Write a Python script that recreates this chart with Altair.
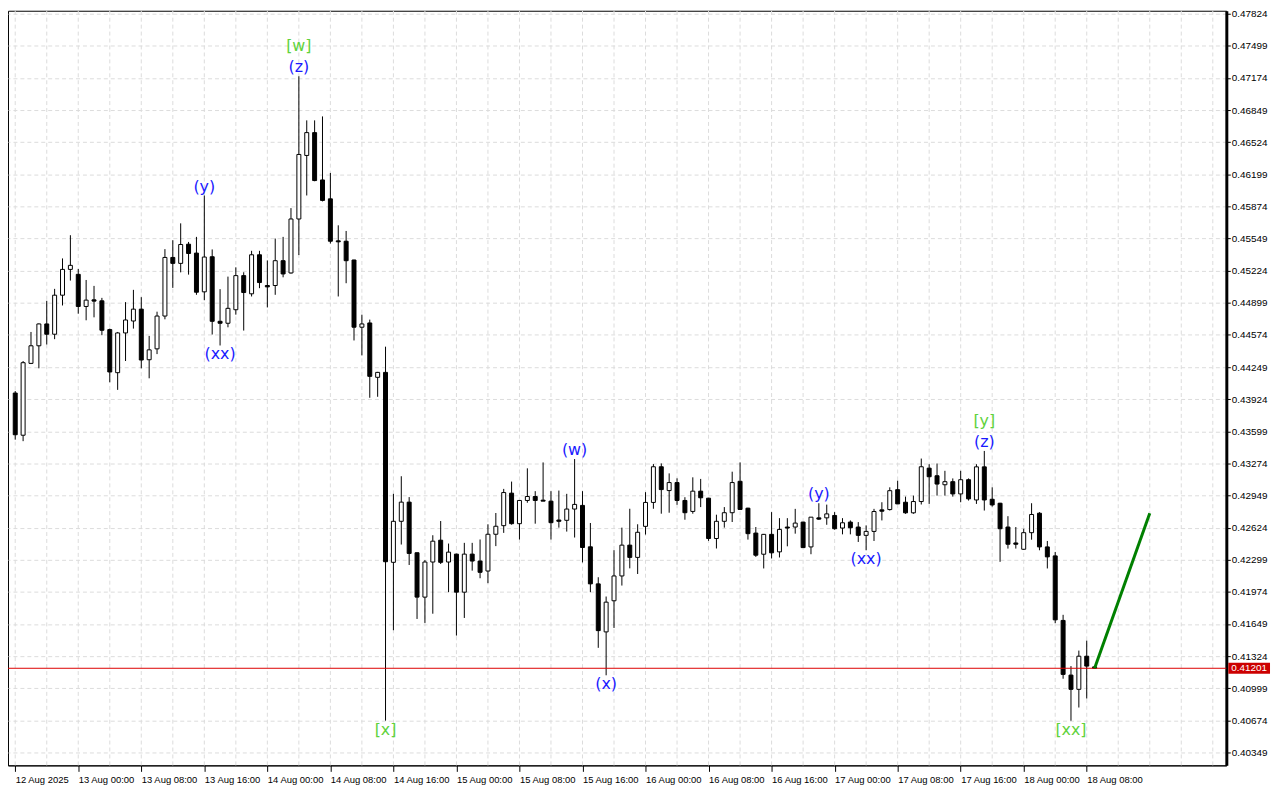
import altair as alt
import pandas as pd

# ---- hourly candles (index 0 = 12 Aug 2025 16:00) ----
opens = [0.43986, 0.43559, 0.44286, 0.44464, 0.44685, 0.44581, 0.44976, 0.45237, 0.45187, 0.44862,
         0.44929, 0.44919, 0.44628, 0.44192, 0.44594, 0.44715, 0.44835, 0.44323, 0.44433, 0.44765,
         0.45358, 0.45298, 0.45492, 0.45402, 0.45010, 0.45365, 0.44712, 0.44692, 0.44829, 0.45174,
         0.44990, 0.45385, 0.45074, 0.45074, 0.45325, 0.45201, 0.45747, 0.46390, 0.46621, 0.46142,
         0.45951, 0.45526, 0.45522, 0.45332, 0.44652, 0.44695, 0.44145, 0.44195, 0.42273, 0.42688,
         0.42882, 0.42370, 0.41921, 0.42276, 0.42497, 0.42276, 0.42356, 0.41971, 0.42356, 0.42286,
         0.42185, 0.42557, 0.42644, 0.42973, 0.42664, 0.42899, 0.42939, 0.42902, 0.42892, 0.42701,
         0.42698, 0.42812, 0.42849, 0.42430, 0.42055, 0.41569, 0.41884, 0.42135, 0.42447, 0.42323,
         0.42637, 0.42879, 0.43240, 0.42999, 0.43080, 0.42899, 0.42788, 0.42993, 0.42922, 0.42514,
         0.42688, 0.42775, 0.43093, 0.42821, 0.42569, 0.42355, 0.42556, 0.42379, 0.42630, 0.42630,
         0.42680, 0.42429, 0.42723, 0.42723, 0.42747, 0.42620, 0.42680, 0.42630, 0.42546, 0.42586,
         0.42804, 0.42807, 0.43008, 0.42881, 0.42774, 0.42888, 0.43226, 0.43149, 0.43058, 0.43089,
         0.42965, 0.43109, 0.42904, 0.43239, 0.42911, 0.42871, 0.42630, 0.42469, 0.42405, 0.42573,
         0.42770, 0.42429, 0.42338, 0.41685, 0.41132, 0.40988, 0.41323, 0.41215]
highs = [0.44006, 0.44310, 0.44604, 0.44690, 0.44919, 0.45040, 0.45348, 0.45583, 0.45241, 0.45130,
         0.45070, 0.44949, 0.44638, 0.44604, 0.44906, 0.45030, 0.44956, 0.44564, 0.44809, 0.45442,
         0.45532, 0.45703, 0.45515, 0.45566, 0.45985, 0.45439, 0.45037, 0.45164, 0.45258, 0.45208,
         0.45425, 0.45425, 0.45328, 0.45549, 0.45566, 0.45857, 0.47191, 0.46745, 0.46745, 0.46785,
         0.46213, 0.45683, 0.45626, 0.45335, 0.44779, 0.44729, 0.44200, 0.44455, 0.42966, 0.43144,
         0.42933, 0.42372, 0.42296, 0.42547, 0.42691, 0.42463, 0.42360, 0.42470, 0.42470, 0.42504,
         0.42658, 0.42772, 0.43016, 0.43090, 0.42902, 0.43224, 0.42993, 0.43284, 0.42993, 0.42999,
         0.42966, 0.43318, 0.42993, 0.42671, 0.42122, 0.41927, 0.42396, 0.42624, 0.42815, 0.42658,
         0.42983, 0.43267, 0.43274, 0.43173, 0.43123, 0.42932, 0.43133, 0.43117, 0.42925, 0.42755,
         0.42832, 0.43190, 0.43284, 0.42825, 0.42630, 0.42560, 0.42781, 0.42720, 0.42720, 0.42814,
         0.42683, 0.42730, 0.42871, 0.42857, 0.42781, 0.42720, 0.42697, 0.42680, 0.42646, 0.42814,
         0.42881, 0.43032, 0.43099, 0.42938, 0.42948, 0.43323, 0.43266, 0.43273, 0.43199, 0.43122,
         0.43199, 0.43122, 0.43266, 0.43400, 0.43032, 0.42875, 0.42740, 0.42630, 0.42613, 0.42871,
         0.42781, 0.42489, 0.42378, 0.41742, 0.41223, 0.41380, 0.41481, 0.41218]
lows = [0.43514, 0.43499, 0.44279, 0.44236, 0.44477, 0.44531, 0.44872, 0.45124, 0.44789, 0.44722,
        0.44752, 0.44571, 0.44095, 0.44018, 0.44310, 0.44638, 0.44236, 0.44135, 0.44380, 0.44732,
        0.45050, 0.45207, 0.45184, 0.44980, 0.44925, 0.44578, 0.44467, 0.44651, 0.44779, 0.44618,
        0.44963, 0.45047, 0.44852, 0.44980, 0.45157, 0.45194, 0.45382, 0.45985, 0.46129, 0.45925,
        0.45499, 0.44963, 0.45097, 0.44518, 0.44367, 0.43938, 0.43948, 0.40671, 0.41586, 0.42453,
        0.42246, 0.41700, 0.41660, 0.41753, 0.42256, 0.41971, 0.41532, 0.41710, 0.42189, 0.42112,
        0.42062, 0.42437, 0.42571, 0.42654, 0.42504, 0.42876, 0.42664, 0.42892, 0.42504, 0.42624,
        0.42584, 0.42524, 0.42272, 0.41971, 0.41408, 0.41130, 0.41609, 0.42038, 0.42212, 0.42155,
        0.42554, 0.42815, 0.42765, 0.42775, 0.42855, 0.42704, 0.42765, 0.42832, 0.42490, 0.42413,
        0.42624, 0.42681, 0.42805, 0.42503, 0.42328, 0.42211, 0.42312, 0.42322, 0.42435, 0.42563,
        0.42420, 0.42355, 0.42703, 0.42653, 0.42603, 0.42556, 0.42556, 0.42479, 0.42395, 0.42489,
        0.42697, 0.42797, 0.42864, 0.42764, 0.42764, 0.42858, 0.42864, 0.42948, 0.42948, 0.42938,
        0.42881, 0.42898, 0.42864, 0.42797, 0.42837, 0.42278, 0.42412, 0.42412, 0.42400, 0.42502,
        0.42395, 0.42211, 0.41658, 0.41095, 0.40670, 0.40804, 0.40895, 0.41198]
closes = [0.43564, 0.44293, 0.44464, 0.44685, 0.44581, 0.44976, 0.45237, 0.45278, 0.44862, 0.44926,
          0.44916, 0.44621, 0.44199, 0.44594, 0.44725, 0.44835, 0.44320, 0.44423, 0.44765, 0.45358,
          0.45298, 0.45489, 0.45398, 0.45006, 0.45362, 0.44712, 0.44692, 0.44843, 0.45174, 0.45003,
          0.45385, 0.45104, 0.45060, 0.45325, 0.45191, 0.45747, 0.46400, 0.46621, 0.46136, 0.45935,
          0.45522, 0.45516, 0.45325, 0.44652, 0.44685, 0.44155, 0.44195, 0.42279, 0.42688, 0.42882,
          0.42363, 0.41921, 0.42276, 0.42487, 0.42273, 0.42376, 0.41971, 0.42356, 0.42286, 0.42172,
          0.42557, 0.42638, 0.42979, 0.42664, 0.42899, 0.42939, 0.42899, 0.42892, 0.42674, 0.42688,
          0.42812, 0.42859, 0.42423, 0.42055, 0.41582, 0.41870, 0.42135, 0.42447, 0.42323, 0.42577,
          0.42879, 0.43240, 0.43009, 0.43080, 0.42899, 0.42775, 0.42993, 0.42926, 0.42514, 0.42688,
          0.42775, 0.43080, 0.42808, 0.42563, 0.42345, 0.42556, 0.42369, 0.42606, 0.42620, 0.42670,
          0.42422, 0.42730, 0.42710, 0.42763, 0.42613, 0.42673, 0.42623, 0.42546, 0.42586, 0.42787,
          0.42790, 0.42998, 0.42864, 0.42774, 0.42888, 0.43240, 0.43139, 0.43065, 0.43089, 0.42965,
          0.43109, 0.42915, 0.43239, 0.42904, 0.42854, 0.42613, 0.42456, 0.42456, 0.42573, 0.42757,
          0.42429, 0.42328, 0.41691, 0.41139, 0.40988, 0.41323, 0.41223, 0.41201]

tick_labels = ["12 Aug 2025", "13 Aug 00:00", "13 Aug 08:00", "13 Aug 16:00", "14 Aug 00:00",
               "14 Aug 08:00", "14 Aug 16:00", "15 Aug 00:00", "15 Aug 08:00", "15 Aug 16:00",
               "16 Aug 00:00", "16 Aug 08:00", "16 Aug 16:00", "17 Aug 00:00", "17 Aug 08:00",
               "17 Aug 16:00", "18 Aug 00:00", "18 Aug 08:00"]
price_ticks = [0.47824, 0.47499, 0.47174, 0.46849, 0.46524, 0.46199, 0.45874, 0.45549, 0.45224,
               0.44899, 0.44574, 0.44249, 0.43924, 0.43599, 0.43274, 0.42949, 0.42624, 0.42299,
               0.41974, 0.41649, 0.41324, 0.40999, 0.40674, 0.40349]
current_price = 0.41201
forecast_idx = [137, 144]
forecast_price = [0.41201, 0.42770]

wave_idx = [36, 36, 24, 26, 47, 71, 75, 102, 108, 123, 123, 134]
wave_text = ["[w]", "(z)", "(y)", "(xx)", "[x]", "(w)", "(x)", "(y)", "(xx)", "[y]", "(z)", "[xx]"]
wave_degree = ["major", "minor", "minor", "minor", "major", "minor", "minor", "minor", "minor",
               "major", "minor", "major"]
wave_side = ["top2", "top", "top", "bottom", "bottom", "top", "bottom", "top", "bottom",
             "top2", "top", "bottom"]

# ---- tables ----
n = len(opens)
candles = pd.DataFrame({"k": list(range(n)), "open": opens, "high": highs,
                        "low": lows, "close": closes})
waves = pd.DataFrame({"k": wave_idx, "text": wave_text, "degree": wave_degree, "side": wave_side})
waves["anchor"] = [highs[i] if s.startswith("top") else lows[i] for i, s in zip(wave_idx, wave_side)]
forecast = pd.DataFrame({"k": forecast_idx, "price": forecast_price})
vgrid = pd.DataFrame({"k": list(range(0, 153, 4))})
cur = pd.DataFrame({"price": [current_price], "label": [f"{current_price:.5f}"]})

W, H = 1227, 760
px_per_price = 0.00010047
xscale = alt.Scale(domain=[-0.2875, 153.0875], nice=False, zero=False)
yscale = alt.Scale(domain=[0.47824 - (H - 3) * px_per_price, 0.47824 + 3 * px_per_price],
                   nice=False, zero=False)

label_expr = "[" + ",".join(f"'{t}'" for t in tick_labels) + "][round(datum.value / 8)]"
xaxis = alt.Axis(values=list(range(0, 8 * len(tick_labels), 8)), labelExpr=label_expr,
                 labelAlign="left", labelBaseline="top", labelPadding=3,
                 tickSize=6, tickColor="black", domainColor="black", domainWidth=1,
                 labelFont="Liberation Sans", labelFontSize=9.5, labelColor="black",
                 grid=False, labelOverlap=False, labelBound=False, labelFlush=False, title=None)
yaxis = alt.Axis(orient="right", values=price_ticks, format=".5f", grid=True,
                 gridColor="#dcdcdc", gridDash=[4, 3], gridWidth=1,
                 domainColor="black", domainWidth=3, tickColor="black", tickSize=4,
                 labelFont="Liberation Sans", labelFontSize=10, labelColor="black",
                 labelPadding=1, labelOverlap=False, labelBound=False, labelFlush=False,
                 title=None)

X = alt.X("k:Q", scale=xscale, axis=xaxis, title=None)

grid_layer = alt.Chart(vgrid).mark_rule(color="#dcdcdc", strokeDash=[4, 3], strokeWidth=1).encode(
    x=X
)

wicks = alt.Chart(candles).mark_rule(color="black", strokeWidth=1).encode(
    x=X,
    y=alt.Y("low:Q", scale=yscale, axis=yaxis, title=None),
    y2="high:Q",
)

bodies = alt.Chart(candles).mark_bar(size=4, stroke="black", strokeWidth=1).encode(
    x=X,
    y=alt.Y("open:Q", scale=yscale, axis=yaxis, title=None),
    y2="close:Q",
    fill=alt.condition("datum.close > datum.open", alt.value("white"), alt.value("black")),
)

price_line = alt.Chart(cur).mark_rule(color="#dd0000", strokeWidth=1).encode(
    y=alt.Y("price:Q", scale=yscale, axis=yaxis, title=None)
)

fc_line = alt.Chart(forecast).mark_line(color="#008000", strokeWidth=3).encode(
    x=X,
    y=alt.Y("price:Q", scale=yscale, axis=yaxis, title=None),
)

wave_color = alt.Color("degree:N", scale=alt.Scale(domain=["major", "minor"],
                                                    range=["#5fd23c", "#1a1aff"]), legend=None)


def wave_layer(side, dy):
    return alt.Chart(waves).transform_filter(f"datum.side == '{side}'").mark_text(
        font="DejaVu Sans", fontSize=16, baseline="middle", align="center", dy=dy
    ).encode(
        x=X,
        y=alt.Y("anchor:Q", scale=yscale, axis=yaxis, title=None),
        text="text:N",
        color=wave_color,
    )


labels_top = wave_layer("top", -9)
labels_top2 = wave_layer("top2", -30)
labels_bottom = wave_layer("bottom", 9)

price_box = alt.Chart(cur).mark_rule(color="#cc0000", strokeWidth=11).encode(
    x=alt.value(W + 2), x2=alt.value(W + 44),
    y=alt.Y("price:Q", scale=yscale, axis=yaxis, title=None),
)
price_text = alt.Chart(cur).mark_text(color="white", align="left", baseline="middle",
                                      font="Liberation Sans", fontSize=10).encode(
    x=alt.value(W + 5),
    y=alt.Y("price:Q", scale=yscale, axis=yaxis, title=None),
    text="label:N",
)

chart = alt.layer(
    grid_layer, wicks, bodies, price_line, fc_line,
    labels_top, labels_top2, labels_bottom, price_box, price_text
).properties(
    width=W, height=H,
    autosize=alt.AutoSizeParams(type="none"),
    padding={"left": 0, "top": 0, "right": 46, "bottom": 18},
    background="white",
).configure_view(stroke="black", strokeWidth=1)

chart.save("out.html", embed_options={"renderer": "svg", "actions": False})
